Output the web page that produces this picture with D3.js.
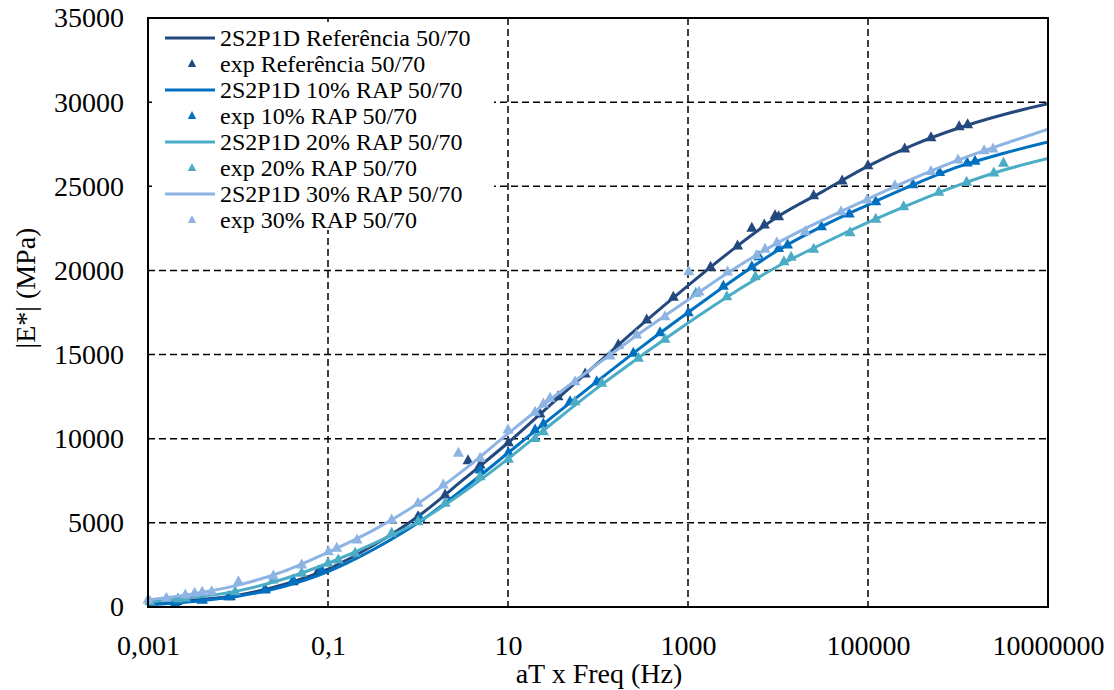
<!DOCTYPE html>
<html>
<head>
<meta charset="utf-8">
<script src="https://cdn.jsdelivr.net/npm/d3@7"></script>
<style>
  html, body { margin: 0; padding: 0; background: #fff; }
  svg { display: block; }
  svg text {
    font-family: "Liberation Serif", "LiberationSerif", "Tinos", "Times New Roman", "Times",
      "Nimbus Roman", "Nimbus Roman No9 L", "FreeSerif", "Noto Serif", "DejaVu Serif", serif !important;
    fill: #000;
  }
</style>
</head>
<body>
<svg id="chart" width="1114" height="690"></svg>
<script>
// Frequency grid (Hz) on which the 2S2P1D model curves are tabulated
const freqGrid = [0.001, 0.00316, 0.01, 0.0316, 0.1, 0.316, 1, 3.16, 10, 31.6, 100, 316,
  1000, 3160, 10000, 31600, 100000, 316000, 1000000, 3160000, 10000000];

// |E*| (MPa) of the 2S2P1D model for each mix
const modelRef = [220, 400, 700, 1330, 2250, 3650, 5380, 7550, 9760, 12150, 14500, 16850,
  19100, 21250, 23200, 24700, 26200, 27450, 28450, 29250, 29900];
const model10 = [130, 330, 640, 1200, 2100, 3400, 5000, 7000, 9150, 11330, 13450, 15520,
  17500, 19420, 21200, 22650, 23900, 25080, 26150, 26950, 27630];
const model20 = [300, 560, 960, 1650, 2600, 3750, 5050, 6800, 8800, 10950, 13050, 15000,
  16880, 18650, 20250, 21600, 22850, 24000, 25050, 25950, 26650];
const model30 = [420, 780, 1300, 2100, 3250, 4550, 6150, 8100, 10300, 12450, 14450, 16400,
  18250, 20050, 21650, 23000, 24250, 25450, 26550, 27500, 28400];

// Experimental points: [aT x Freq (Hz), |E*| (MPa)]
const expRef = [[0.0021,330],[0.0040,420],[0.0082,610],[0.020,1050],[0.041,1500],[0.078,2140],
  [1.0,5370],[2.0,6650],[3.6,8690],[4.9,8440],[10.1,9760],[22.7,11470],[36,12500],[72,13850],
  [168,15570],[348,17050],[687,18400],[1780,20190],[3550,21450],[5120,22500],[7050,22700],
  [9270,23250],[10160,23190],[24900,24440],[51600,25310],[99800,26220],[256000,27210],
  [501000,27890],[1030000,28540],[1280000,28660]];
const exp10 = [[0.0020,220],[0.0040,416],[0.0078,612],[0.020,1010],[0.041,1600],[0.085,2200],
  [1.05,5270],[4.9,8140],[10.1,9170],[20,10520],[24.7,10870],[48.9,12200],[96.8,13390],
  [247,15080],[489,16300],[1007,17490],[2470,19060],[5120,20220],[6140,20820],[10160,21310],
  [12760,21510],[30400,22600],[61900,23350],[122000,24080],[316000,25090],[625000,25820],
  [1265000,26390],[1545000,26490]];
const exp20 = [[0.00105,315],[0.00215,475],[0.0026,517],[0.0093,910],[0.0245,1600],[0.051,2000],
  [0.10,2600],[0.13,2790],[0.20,3190],[0.51,4380],[1.0,5070],[2.0,6160],[4.9,7740],[10.1,8780],
  [20,10020],[24.7,10420],[55.5,12200],[110,13290],[281,14780],[555,15910],[1220,18640],
  [2700,18440],[5610,19630],[11640,20520],[14000,20780],[24900,21260],[63100,22240],
  [122000,23040],[249000,23790],[612000,24650],[1247000,25240],[2500000,25790],[3200000,26370]];
const exp30 = [[0.001,420],[0.0016,517],[0.0026,713],[0.0033,814],[0.0040,873],[0.0051,909],
  [0.0101,1500],[0.0247,1840],[0.051,2500],[0.101,3290],[0.125,3490],[0.21,3980],[0.51,5170],
  [1.0,6160],[1.91,7250],[2.81,9130],[4.9,8840],[10,10520],[20,11580],[24.7,12060],[29.3,12400],
  [55.5,13390],[136,14910],[269,16160],[555,17250],[1020,19920],[1325,18720],[2750,19910],
  [5770,20890],[7170,21260],[9710,21650],[20100,22300],[50100,23490],[97700,24180],
  [199000,25030],[501000,25880],[1000000,26560],[1950000,27110],[2450000,27210]];

// Axis ticks and labels
const xTicks = [0.001, 0.1, 10, 1000, 100000, 10000000];
const xTickLabels = ["0,001", "0,1", "10", "1000", "100000", "10000000"];
const yTicks = [0, 5000, 10000, 15000, 20000, 25000, 30000, 35000];

// Series names and colours
const seriesNames = ["Referência 50/70", "10% RAP 50/70", "20% RAP 50/70", "30% RAP 50/70"];
const seriesColors = ["#24497E", "#0070C0", "#4BACC6", "#8EB4E3"];

const series = [
  { name: seriesNames[0], color: seriesColors[0], model: modelRef, exp: expRef },
  { name: seriesNames[1], color: seriesColors[1], model: model10, exp: exp10 },
  { name: seriesNames[2], color: seriesColors[2], model: model20, exp: exp20 },
  { name: seriesNames[3], color: seriesColors[3], model: model30, exp: exp30 }
];

const svg = d3.select("#chart");
const plot = { left: 148, right: 1048, top: 18, bottom: 607 };

const x = d3.scaleLog().domain([0.001, 10000000]).range([plot.left, plot.right]);
const y = d3.scaleLinear().domain([0, 35000]).range([plot.bottom, plot.top]);

// Dashed grid
const grid = svg.append("g").attr("stroke", "#000").attr("stroke-width", 1.5)
  .attr("stroke-dasharray", "7,4");
grid.selectAll("line.h").data(yTicks.filter(v => v > 0 && v < 35000)).join("line")
  .attr("x1", plot.left).attr("x2", plot.right)
  .attr("y1", d => y(d)).attr("y2", d => y(d));
grid.selectAll("line.v").data(xTicks.filter(v => v > 0.001 && v < 10000000)).join("line")
  .attr("y1", plot.top).attr("y2", plot.bottom)
  .attr("x1", d => x(d)).attr("x2", d => x(d));

// Model curves and experimental triangles
const line = d3.line()
  .x((d, i) => x(freqGrid[i]))
  .y(d => y(d))
  .curve(d3.curveMonotoneX);

svg.append("clipPath").attr("id", "plotClip")
  .append("rect").attr("x", plot.left - 8).attr("y", plot.top)
  .attr("width", plot.right - plot.left + 8).attr("height", plot.bottom - plot.top + 8);

const marks = svg.append("g");
const tri = "M0,-6.5L5.5,3.5L-5.5,3.5Z";
series.forEach(s => {
  marks.append("path").datum(s.model)
    .attr("fill", "none").attr("stroke", s.color).attr("stroke-width", 3)
    .attr("d", line)
    .attr("clip-path", "url(#plotClip)");
  marks.append("g").selectAll("path").data(s.exp).join("path")
    .attr("d", tri)
    .attr("fill", s.color)
    .attr("transform", d => `translate(${x(d[0])},${y(d[1])})`);
});

// Frame
svg.append("rect")
  .attr("x", plot.left).attr("y", plot.top)
  .attr("width", plot.right - plot.left).attr("height", plot.bottom - plot.top)
  .attr("fill", "none").attr("stroke", "#000").attr("stroke-width", 2);

// Axis labels
const yAxis = d3.axisLeft(y).tickValues(yTicks).tickSize(0).tickPadding(24).tickFormat(d3.format("d"));
svg.append("g").attr("transform", `translate(${plot.left},0)`).call(yAxis)
  .attr("font-family", null).attr("font-size", 28)
  .call(g => g.select(".domain").remove());

const xAxis = d3.axisBottom(x).tickValues(xTicks).tickSize(0).tickPadding(28)
  .tickFormat((d, i) => xTickLabels[i]);
svg.append("g").attr("transform", `translate(0,${plot.bottom})`).call(xAxis)
  .attr("font-family", null).attr("font-size", 28)
  .call(g => g.select(".domain").remove());

// Axis titles
svg.append("text").attr("x", 599).attr("y", 683).attr("text-anchor", "middle")
  .attr("font-size", 28).text("aT x Freq (Hz)");
svg.append("text").attr("transform", "translate(35,288) rotate(-90)")
  .attr("text-anchor", "middle").attr("font-size", 28).text("|E*| (MPa)");

// Legend
const legend = svg.append("g");
legend.append("rect").attr("x", 152).attr("y", 22).attr("width", 342).attr("height", 208)
  .attr("fill", "#fff");
series.forEach((s, i) => {
  const rowLine = 38 + i * 2 * 26;
  const rowExp = rowLine + 26;
  legend.append("line").attr("x1", 165).attr("x2", 215)
    .attr("y1", rowLine).attr("y2", rowLine)
    .attr("stroke", s.color).attr("stroke-width", 3);
  legend.append("text").attr("x", 220).attr("y", rowLine).attr("dy", "0.35em")
    .attr("font-size", 24).text("2S2P1D " + s.name);
  legend.append("path").attr("d", "M0,-5L4.2,3L-4.2,3Z").attr("fill", s.color)
    .attr("transform", `translate(192,${rowExp})`);
  legend.append("text").attr("x", 220).attr("y", rowExp).attr("dy", "0.35em")
    .attr("font-size", 24).text("exp " + s.name);
});
</script>
</body>
</html>
